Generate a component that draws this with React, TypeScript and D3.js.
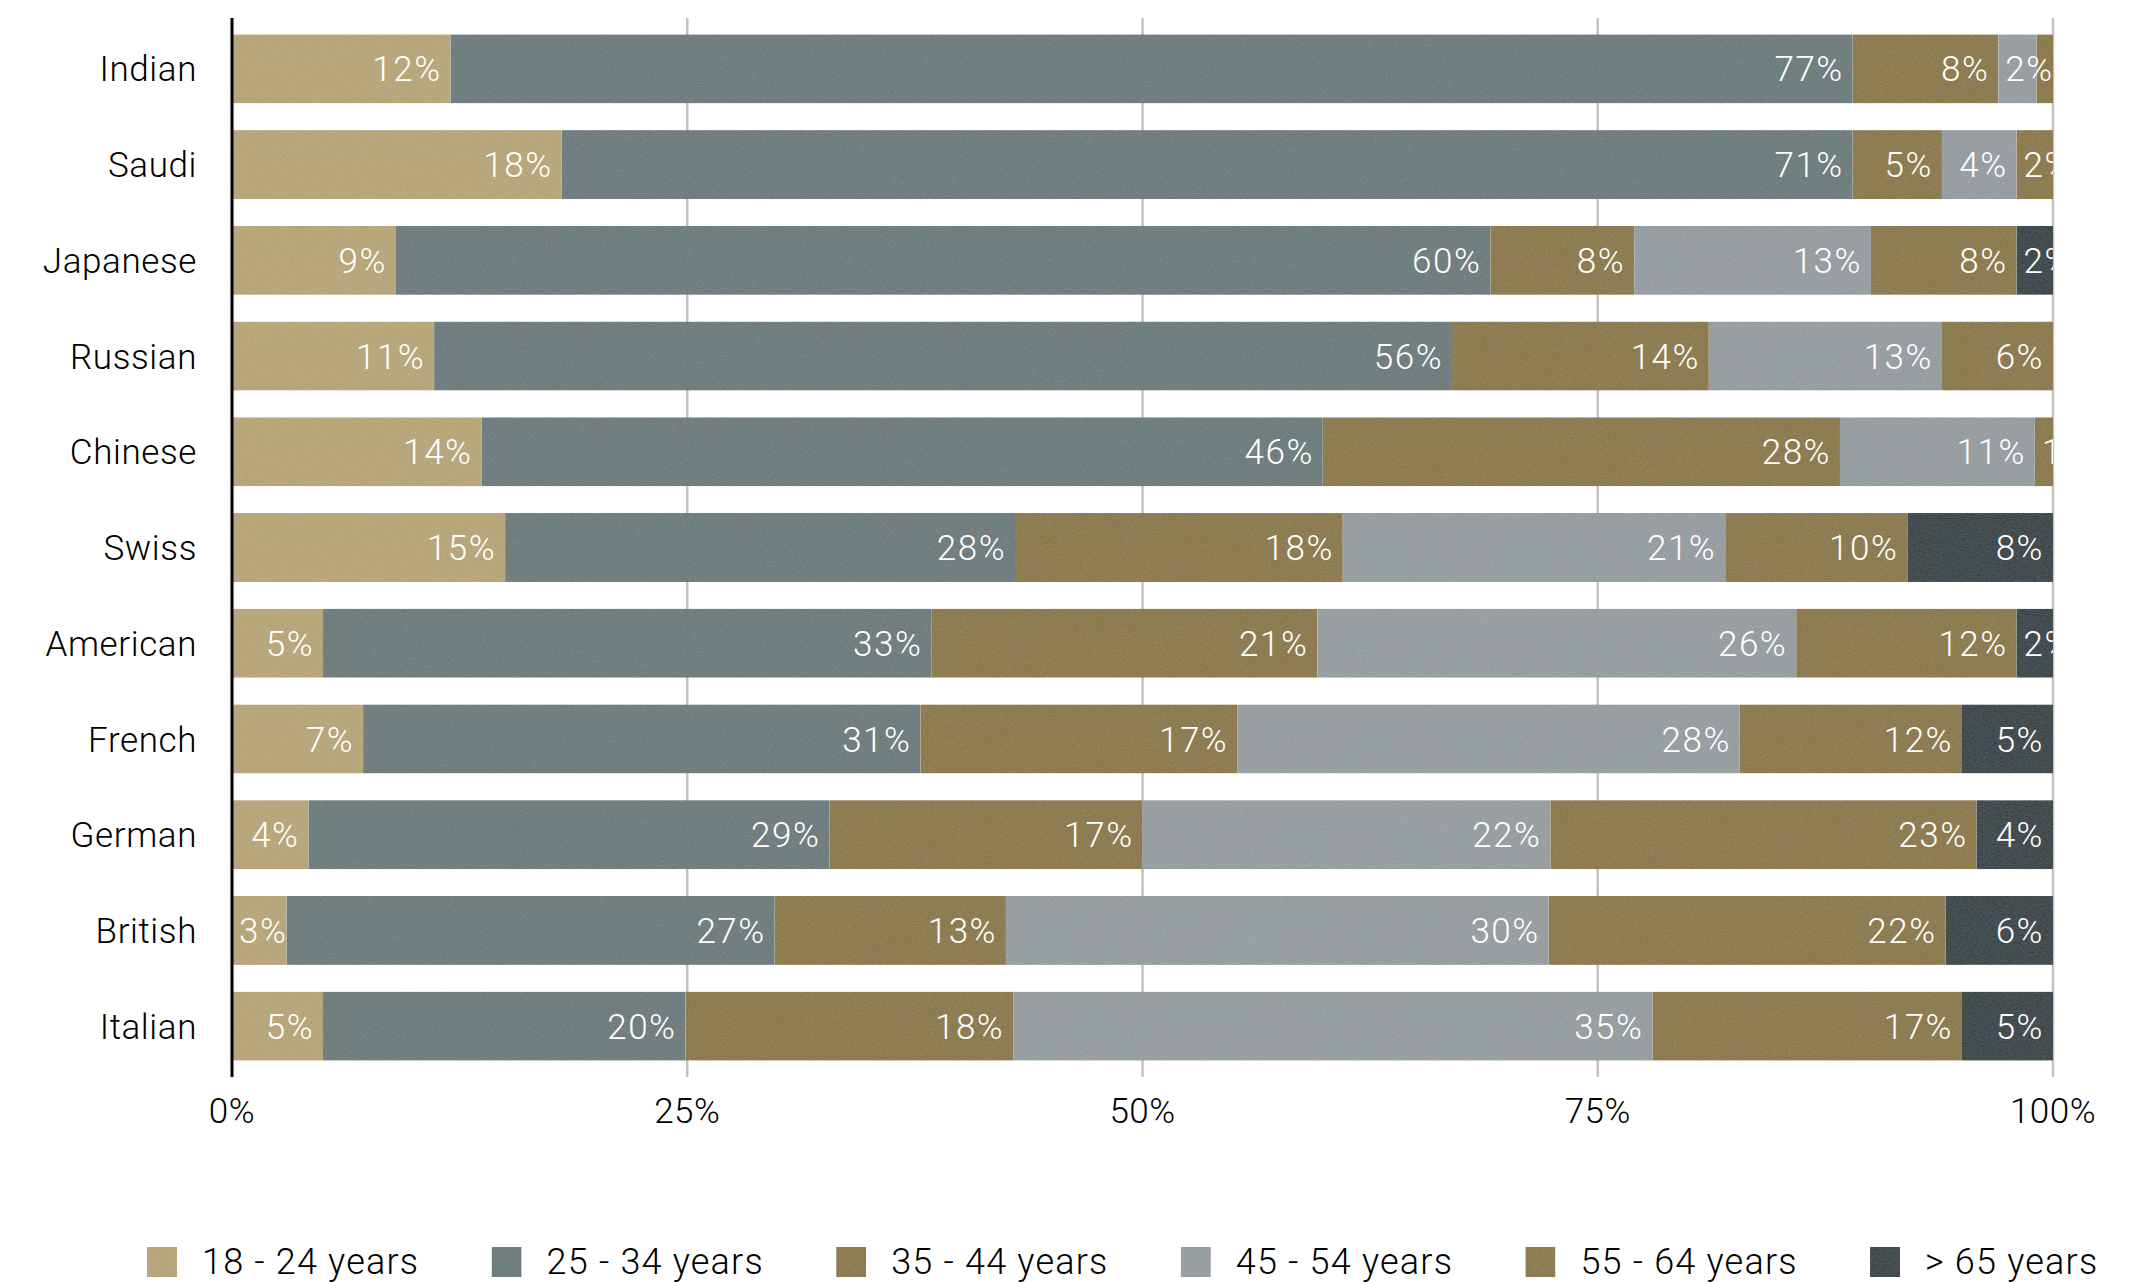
import * as d3 from "d3"

const categories = ["Indian", "Saudi", "Japanese", "Russian", "Chinese", "Swiss", "American", "French", "German", "British", "Italian"]
const ageGroups = ["18 - 24 years", "25 - 34 years", "35 - 44 years", "45 - 54 years", "55 - 64 years", "> 65 years"]
const ages18to24 = [12, 18.1, 9, 11.1, 13.7, 15, 5, 7.2, 4.2, 3, 5]
const ages25to34 = [77, 70.9, 60.1, 55.9, 46.2, 28, 33.4, 30.6, 28.6, 26.8, 19.9]
const ages35to44 = [8, 4.9, 7.9, 14.1, 28.4, 18, 21.2, 17.4, 17.2, 12.7, 18]
const ages45to54 = [2.1, 4.1, 13, 12.8, 10.7, 21, 26.3, 27.6, 22.4, 29.8, 35.1]
const ages55to64 = [0.9, 2, 8, 6.1, 1, 10, 12.1, 12.2, 23.4, 21.8, 17]
const ages65plus = [0, 0, 2, 0, 0, 8, 2, 5, 4.2, 5.9, 5]
const tickValues = [0, 25, 50, 75, 100]
const colors = ["#b8a77c", "#717f80", "#8e7d53", "#989fa3", "#8e7d53", "#444e51"]

const W = 2150
const H = 1283
const FONT = "Roboto, 'Liberation Sans', sans-serif"

const series = [ages18to24, ages25to34, ages35to44, ages45to54, ages55to64, ages65plus]
const rows = categories.map((c, i) => {
  const row: Record<string, number | string> = { country: c }
  ageGroups.forEach((g, k) => (row[g] = series[k][i]))
  return row
})

let ctx: CanvasRenderingContext2D | null = null
function textWidth(s: string, size: number, weight: number, spacing: number) {
  if (!ctx) ctx = document.createElement("canvas").getContext("2d")
  if (!ctx) return s.length * size * 0.6
  ctx.font = `${weight} ${size}px Roboto`
  return ctx.measureText(s).width + spacing * s.length
}

export default function App() {
  const x = d3.scaleLinear().domain([0, 100]).range([232, 2053])
  const y = d3.scaleBand<string>().domain(categories).range([21, 1074]).paddingInner(0.28).paddingOuter(0.14)
  const stacked = d3.stack<Record<string, number | string>>().keys(ageGroups).value((d, k) => d[k] as number)(rows)
  const legendX = d3.scaleLinear().domain([0, 5]).range([147, 147 + 5 * 344.6])
  const labelSize = 35
  const labelSpacing = 1.5

  // work out label placement row by row, dropping a label that would run into the previous one
  const labels: { key: string; x: number; y: number; anchor: string; text: string }[] = []
  categories.forEach((c, i) => {
    let lastRight = -Infinity
    stacked.forEach((s, k) => {
      const d = s[i]
      const v = d[1] - d[0]
      if (v <= 0) return
      const text = `${Math.round(v)}%`
      const w = textWidth(text, labelSize, 300, labelSpacing)
      const segW = x(d[1]) - x(d[0])
      const fits = w + 16 <= segW
      const left = fits ? x(d[1]) - 9 - w : x(d[0]) + 7
      if (left < lastRight) return
      lastRight = left + w
      labels.push({
        key: `${k}-${i}`,
        x: fits ? x(d[1]) - 9 : x(d[0]) + 7,
        y: (y(c) ?? 0) + y.bandwidth() / 2,
        anchor: fits ? "end" : "start",
        text,
      })
    })
  })

  return (
    <svg width={W} height={H} style={{ position: "absolute", left: 0, top: 0, background: "#fff" }}>
      <defs>
        <filter id="paper" x="0" y="0" width="100%" height="100%">
          <feTurbulence type="fractalNoise" baseFrequency="0.35 0.9" numOctaves={2} seed={4} result="noise" />
          <feColorMatrix in="noise" type="matrix" values="0.33 0.33 0.33 0 0  0.33 0.33 0.33 0 0  0.33 0.33 0.33 0 0  0 0 0 0 1" result="gray" />
          <feComposite in="SourceGraphic" in2="gray" operator="arithmetic" k1={0} k2={1} k3={0.12} k4={-0.06} result="tex" />
          <feComposite in="tex" in2="SourceGraphic" operator="in" />
        </filter>
        <clipPath id="plot">
          <rect x={0} y={0} width={x(100)} height={H} />
        </clipPath>
      </defs>

      {/* grid */}
      {tickValues.slice(1).map((t) => (
        <line key={t} x1={x(t)} x2={x(t)} y1={18} y2={1077} stroke="#c2c2c2" strokeWidth={2.5} />
      ))}

      {/* bars */}
      <g filter="url(#paper)">
        {stacked.map((s, k) =>
          s.map((d, i) => (
            <rect
              key={`${k}-${i}`}
              x={x(d[0])}
              y={y(categories[i])}
              width={Math.max(0, x(d[1]) - x(d[0]))}
              height={y.bandwidth()}
              fill={colors[k]}
            />
          ))
        )}
      </g>

      {/* value labels */}
      <g clipPath="url(#plot)">
        {labels.map((l) => (
          <text
            key={l.key}
            x={l.x}
            y={l.y}
            dy="0.36em"
            textAnchor={l.anchor}
            fill="#fff"
            fontFamily={FONT}
            fontWeight={300}
            fontSize={labelSize}
            letterSpacing={labelSpacing}
          >
            {l.text}
          </text>
        ))}
      </g>

      {/* y axis */}
      <line x1={x(0)} x2={x(0)} y1={18} y2={1077} stroke="#000" strokeWidth={3} />
      {categories.map((c) => (
        <text
          key={c}
          x={197}
          y={(y(c) ?? 0) + y.bandwidth() / 2}
          dy="0.36em"
          textAnchor="end"
          fill="#000"
          fontFamily={FONT}
          fontWeight={300}
          fontSize={35}
          letterSpacing={0.6}
        >
          {c}
        </text>
      ))}

      {/* x tick labels */}
      {tickValues.map((t) => (
        <text key={t} x={x(t)} y={1123} textAnchor="middle" fill="#000" fontFamily={FONT} fontWeight={300} fontSize={35} letterSpacing={0.5}>
          {`${t}%`}
        </text>
      ))}

      {/* legend */}
      {ageGroups.map((g, k) => (
        <g key={g} transform={`translate(${legendX(k)},1247)`}>
          <rect width={30} height={30} fill={colors[k]} filter="url(#paper)" />
          <text x={55} y={27} fill="#000" fontFamily={FONT} fontWeight={300} fontSize={36} letterSpacing={1.2}>
            {g}
          </text>
        </g>
      ))}
    </svg>
  )
}
